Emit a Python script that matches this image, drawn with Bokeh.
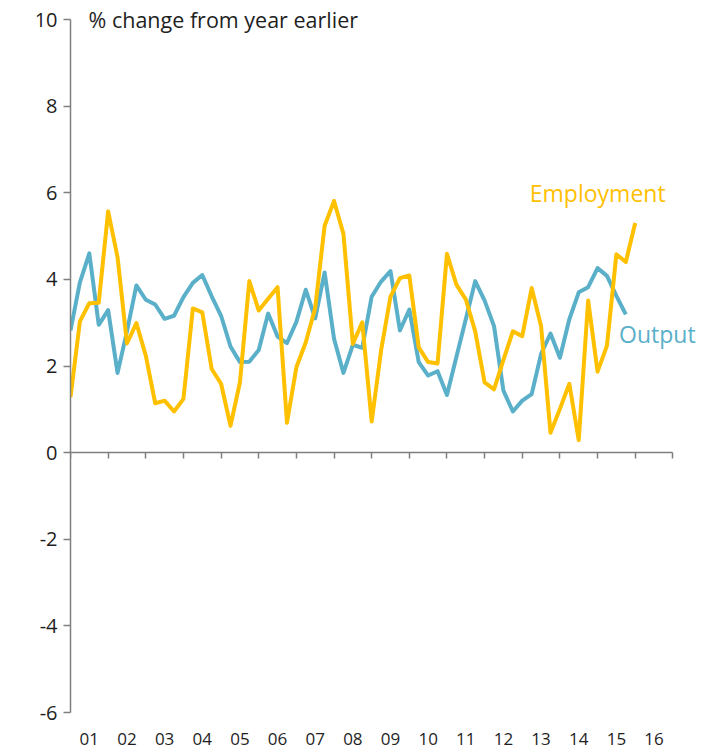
from bokeh.plotting import figure
from bokeh.models import Range1d, LinearAxis, FixedTicker, Label
from bokeh.embed import file_html
from bokeh.resources import INLINE

# ---- data -------------------------------------------------------------
years = list(range(2001, 2017))
year_labels = ["01", "02", "03", "04", "05", "06", "07", "08",
               "09", "10", "11", "12", "13", "14", "15", "16"]
y_ticks = [-6, -4, -2, 0, 2, 4, 6, 8, 10]

# quarterly, % change from year earlier, starting 2001 Q1
output_growth = [
    2.82, 3.93, 4.60, 2.95, 3.29, 1.84, 2.80, 3.86,        # 2001-02
    3.53, 3.42, 3.09, 3.16, 3.59, 3.92, 4.10, 3.61,        # 2003-04
    3.16, 2.45, 2.09, 2.10, 2.37, 3.21, 2.68, 2.53,        # 2005-06
    3.02, 3.76, 3.10, 4.16, 2.63, 1.84, 2.49, 2.42,        # 2007-08
    3.60, 3.95, 4.19, 2.82, 3.30, 2.09, 1.78, 1.88,        # 2009-10
    1.33, 2.21, 3.08, 3.96, 3.51, 2.92, 1.43, 0.95,        # 2011-12
    1.20, 1.35, 2.28, 2.75, 2.19, 3.08, 3.70, 3.82,        # 2013-14
    4.26, 4.08, 3.62, 3.19,                                # 2015
]
employment_growth = [
    1.28, 3.03, 3.45, 3.46, 5.57, 4.51, 2.52, 2.99,        # 2001-02
    2.24, 1.14, 1.20, 0.95, 1.24, 3.33, 3.24, 1.93,        # 2003-04
    1.59, 0.62, 1.62, 3.96, 3.28, 3.55, 3.82, 0.69,        # 2005-06
    1.97, 2.55, 3.34, 5.24, 5.81, 5.05, 2.51, 3.01,        # 2007-08
    0.72, 2.36, 3.60, 4.03, 4.09, 2.43, 2.09, 2.06,        # 2009-10
    4.59, 3.88, 3.54, 2.80, 1.62, 1.46, 2.14, 2.80,        # 2011-12
    2.69, 3.80, 2.92, 0.46, 1.01, 1.59, 0.29, 3.51,        # 2013-14
    1.87, 2.47, 4.58, 4.40, 5.30,                          # 2015-16 Q1
]

def quarter_x(n):
    return [years[0] + i / 4 for i in range(n)]

BLUE = "#5AAFC9"
GOLD = "#FFC000"
AXIS = "#7F7F7F"
TEXT = "#1E1E1E"
FONT = "Open Sans"

PX_PER_UNIT = 43.3125           # 693 px for the 16-unit axis span
HEAD = 19                       # free space above the 10 gridline
y_top = y_ticks[-1] + HEAD / PX_PER_UNIT

p = figure(
    frame_width=640, frame_height=693 + HEAD,
    x_range=Range1d(years[0], years[-1] + 2),
    y_range=Range1d(y_ticks[0], y_top),
    output_backend="svg", toolbar_location=None,
    min_border_left=70, min_border_right=0,
    min_border_top=0, min_border_bottom=39,
    background_fill_color="white", border_fill_color="white",
    outline_line_color=None,
)
p.grid.visible = False

# y axis
ya = p.yaxis[0]
ya.ticker = FixedTicker(ticks=y_ticks)
ya.bounds = (y_ticks[0], y_ticks[-1])
ya.major_label_overrides = {t: str(t) for t in y_ticks}
ya.axis_line_color = AXIS
ya.axis_line_width = 1.5
ya.major_tick_line_color = AXIS
ya.major_tick_line_width = 1.5
ya.major_tick_out = 7
ya.major_tick_in = 0
ya.minor_tick_line_color = None
ya.major_label_text_font = FONT
ya.major_label_text_font_size = "20px"
ya.major_label_text_color = TEXT
ya.major_label_standoff = 6

# bottom labels axis (year labels centred in each year)
xa = p.xaxis[0]
mids = [y + 0.5 for y in years]
xa.ticker = FixedTicker(ticks=mids)
xa.major_label_overrides = {m: lab for m, lab in zip(mids, year_labels)}
xa.axis_line_color = None
xa.major_tick_line_color = None
xa.minor_tick_line_color = None
xa.major_tick_out = 0
xa.major_tick_in = 0
xa.major_label_standoff = 20
xa.major_label_text_font = FONT
xa.major_label_text_font_size = "17px"
xa.major_label_text_color = TEXT

# zero-line axis with tick marks at year boundaries
za = LinearAxis(fixed_location=0)
za.ticker = FixedTicker(ticks=years + [years[-1] + 1])
za.bounds = (years[0], years[-1] + 1)
za.axis_line_color = AXIS
za.axis_line_width = 1.5
za.major_tick_line_color = AXIS
za.major_tick_line_width = 1.5
za.major_tick_out = 6
za.major_tick_in = 0
za.minor_tick_line_color = None
za.major_label_text_font_size = "0px"
za.major_label_text_alpha = 0
p.add_layout(za, "below")

p.line(quarter_x(len(output_growth)), output_growth,
       line_color=BLUE, line_width=4, line_join="round")
p.line(quarter_x(len(employment_growth)), employment_growth,
       line_color=GOLD, line_width=4, line_join="round")

p.add_layout(Label(x=2001.48, y=10, text="% change from year earlier",
                   text_font=FONT, text_font_size="21.5px", text_color=TEXT,
                   text_baseline="middle", text_align="left"))
p.add_layout(Label(x=2013.2, y=6.0, text="Employment",
                   text_font=FONT, text_font_size="23px", text_color=GOLD,
                   text_baseline="middle", text_align="left"))
p.add_layout(Label(x=2015.57, y=2.75, text="Output",
                   text_font=FONT, text_font_size="23px", text_color=BLUE,
                   text_baseline="middle", text_align="left"))

open("out.html", "w").write(file_html(p, INLINE))
